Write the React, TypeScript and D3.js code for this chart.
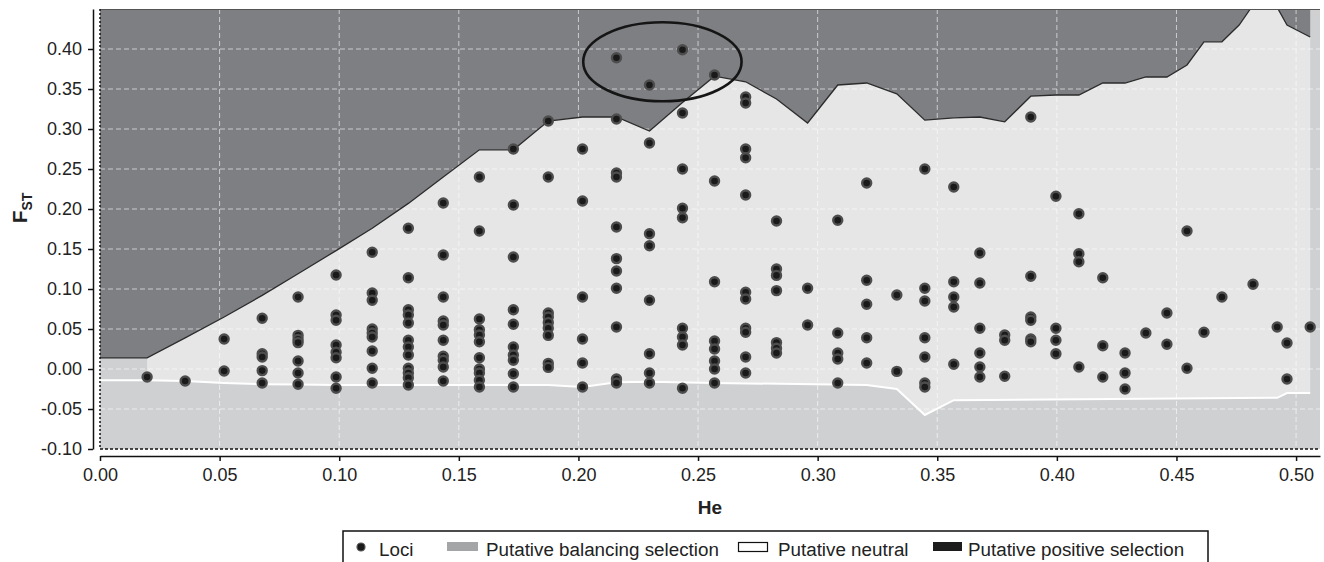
import { useEffect, useRef } from "react";
import * as d3 from "d3";

// axis ticks
const xTicks = [0, 0.05, 0.1, 0.15, 0.2, 0.25, 0.3, 0.35, 0.4, 0.45, 0.5];
const yTicks = [-0.1, -0.05, 0, 0.05, 0.1, 0.15, 0.2, 0.25, 0.3, 0.35, 0.4];

// upper boundary (neutral / positive selection)
const upperHe = [0, 0.0197, 0.0356, 0.0519, 0.0678, 0.0828, 0.0987, 0.1138, 0.1289, 0.1435, 0.1586, 0.1728,
  0.1874, 0.2017, 0.2159, 0.2297, 0.2435, 0.2569, 0.2699, 0.2828, 0.2958, 0.3084, 0.3205, 0.3331, 0.3448,
  0.3569, 0.3678, 0.3782, 0.3891, 0.3996, 0.4092, 0.4192, 0.4285, 0.4372, 0.446, 0.4544, 0.4615, 0.469,
  0.4762, 0.482, 0.4921, 0.4962, 0.5059];
const upperFst = [0.014, 0.014, 0.039, 0.065, 0.092, 0.119, 0.148, 0.176, 0.207, 0.24, 0.274, 0.274,
  0.31, 0.315, 0.315, 0.2975, 0.333, 0.366, 0.359, 0.3375, 0.3075, 0.355, 0.3575, 0.344, 0.311,
  0.314, 0.315, 0.309, 0.341, 0.3425, 0.3425, 0.3575, 0.3575, 0.365, 0.365, 0.38, 0.409, 0.409,
  0.43, 0.455, 0.452, 0.43, 0.415];

// lower boundary (balancing / neutral)
const lowerHe = [0, 0.0197, 0.0356, 0.0519, 0.0678, 0.0828, 0.0987, 0.1874, 0.2017, 0.2159, 0.2297, 0.2569,
  0.3205, 0.3331, 0.3448, 0.3569, 0.4921, 0.4962, 0.5059];
const lowerFst = [-0.014, -0.014, -0.015, -0.0175, -0.019, -0.0195, -0.02, -0.02, -0.0225, -0.0165, -0.016, -0.0175,
  -0.02, -0.025, -0.0575, -0.039, -0.036, -0.03, -0.03];

// loci, grouped by He column
const lociHe = [0.0197, 0.0356, 0.0519, 0.0678, 0.0828, 0.0987, 0.1138, 0.1289, 0.1435, 0.1586, 0.1728,
  0.1874, 0.2017, 0.2159, 0.2297, 0.2435, 0.2569, 0.2699, 0.2828, 0.2958, 0.3084, 0.3205, 0.3331, 0.3448,
  0.3569, 0.3678, 0.3782, 0.3891, 0.3996, 0.4092, 0.4192, 0.4285, 0.4372, 0.446, 0.4544, 0.4615, 0.469,
  0.482, 0.4921, 0.4962, 0.5059];
const lociFst = [
  [-0.01],
  [-0.015],
  [0.0375, -0.0025],
  [0.0635, 0.019, 0.015, -0.002, -0.0175],
  [0.09, 0.042, 0.037, 0.033, 0.01, -0.005, -0.019],
  [0.1175, 0.0675, 0.061, 0.03, 0.021, 0.014, -0.01, -0.024],
  [0.146, 0.095, 0.086, 0.05, 0.045, 0.04, 0.0225, 0.001, -0.0175],
  [0.176, 0.114, 0.074, 0.0675, 0.0575, 0.036, 0.0275, 0.0175, 0.001, -0.005, -0.011, -0.02],
  [0.2075, 0.1425, 0.09, 0.06, 0.055, 0.036, 0.016, 0.011, 0.0025, -0.015],
  [0.24, 0.1725, 0.0625, 0.049, 0.0425, 0.034, 0.014, 0.0, -0.005, -0.014, -0.0225],
  [0.275, 0.205, 0.14, 0.074, 0.056, 0.0275, 0.0175, 0.011, -0.006, -0.0225],
  [0.31, 0.24, 0.07, 0.065, 0.058, 0.051, 0.042, 0.007, 0.002],
  [0.275, 0.21, 0.09, 0.0375, 0.0075, -0.0225],
  [0.389, 0.3125, 0.245, 0.24, 0.1775, 0.138, 0.1225, 0.101, 0.0525, -0.0125, -0.0175],
  [0.355, 0.2825, 0.169, 0.154, 0.086, 0.019, -0.005, -0.0175],
  [0.399, 0.32, 0.25, 0.201, 0.189, 0.051, 0.04, 0.03, -0.024],
  [0.3675, 0.235, 0.109, 0.035, 0.025, 0.01, 0.0, -0.0175],
  [0.34, 0.3325, 0.275, 0.264, 0.2175, 0.096, 0.0875, 0.051, 0.046, 0.015, -0.005],
  [0.185, 0.125, 0.117, 0.098, 0.033, 0.026, 0.02],
  [0.101, 0.055],
  [0.186, 0.045, 0.02, 0.0125, -0.0175],
  [0.2325, 0.111, 0.081, 0.039, 0.0075],
  [0.0925, -0.003],
  [0.25, 0.101, 0.085, 0.039, 0.015, -0.0175, -0.0225],
  [0.2275, 0.109, 0.09, 0.0775, 0.006],
  [0.145, 0.1075, 0.051, 0.02, 0.0025, -0.01],
  [0.0425, 0.036, -0.009],
  [0.315, 0.116, 0.065, 0.061, 0.0375, 0.034],
  [0.216, 0.051, 0.036, 0.019],
  [0.194, 0.144, 0.134, 0.0025],
  [0.114, 0.029, -0.01],
  [0.02, -0.005, -0.025],
  [0.045],
  [0.07, 0.031],
  [0.1725, 0.001],
  [0.046],
  [0.09],
  [0.106],
  [0.0525],
  [0.0325, -0.0125],
  [0.0525],
];

// highlighted loci (ellipse centre / radii in data units)
const ellipseCenter = [0.2351, 0.384];
const ellipseRadii = [0.0331, 0.0494];

const legendLabels = ["Loci", "Putative balancing selection", "Putative neutral", "Putative positive selection"];

const FONT = "'Liberation Sans', Arial, Helvetica, sans-serif";
const DARK = "#7e7f83";
const NEUTRAL = "#e6e6e6";
const BALANCE = "#cfd0d2";

const App = () => {
  const svgRef = useRef<SVGSVGElement>(null);

  useEffect(() => {
    const svg = d3.select(svgRef.current);
    svg.selectAll("*").remove();

    const x = d3.scaleLinear().domain([0, 0.51]).range([100, 1320]);
    const y = d3.scaleLinear().domain([-0.1, 0.45]).range([449, 9]);
    const heMin = upperHe[1];
    const line = d3.line<[number, number]>().x(d => x(d[0])).y(d => y(d[1]));

    svg.append("defs").append("clipPath").attr("id", "plot-clip")
      .append("rect")
      .attr("x", x(0)).attr("y", y(0.45))
      .attr("width", x(0.51) - x(0)).attr("height", y(-0.1) - y(0.45));

    const plot = svg.append("g").attr("clip-path", "url(#plot-clip)");

    // balancing background
    plot.append("rect")
      .attr("x", x(0)).attr("y", y(0.45))
      .attr("width", x(0.51) - x(0)).attr("height", y(-0.1) - y(0.45))
      .attr("fill", BALANCE);

    // positive selection region above the upper line
    const upper = upperHe.map((h, i) => [h, upperFst[i]] as [number, number]);
    const lower = lowerHe.map((h, i) => [h, lowerFst[i]] as [number, number]);
    plot.append("path")
      .datum(upper)
      .attr("fill", DARK)
      .attr("d", d3.area<[number, number]>().x(d => x(d[0])).y0(y(0.5)).y1(d => y(d[1])));

    // neutral region between the lines
    const poly = [...upper.filter(d => d[0] >= heMin), ...lower.filter(d => d[0] >= heMin).reverse()];
    plot.append("path")
      .datum(poly)
      .attr("fill", NEUTRAL)
      .attr("d", d => line(d) + "Z");

    // grid
    plot.append("g").selectAll("line")
      .data(xTicks.filter(t => t > 0))
      .join("line")
      .attr("x1", d => x(d)).attr("x2", d => x(d))
      .attr("y1", y(0.45)).attr("y2", y(-0.1))
      .attr("stroke", "#fff").attr("stroke-opacity", 0.6)
      .attr("stroke-dasharray", "5,3");
    plot.append("g").selectAll("line")
      .data(yTicks.filter(t => t > -0.1))
      .join("line")
      .attr("x1", x(0)).attr("x2", x(0.51))
      .attr("y1", d => y(d)).attr("y2", d => y(d))
      .attr("stroke", "#fff").attr("stroke-opacity", 0.6)
      .attr("stroke-dasharray", "5,3");

    // boundary lines
    plot.append("path")
      .datum(lower)
      .attr("fill", "none").attr("stroke", "#fff").attr("stroke-width", 2)
      .attr("d", line);
    plot.append("path")
      .datum(upper)
      .attr("fill", "none").attr("stroke", "#2b2b2b").attr("stroke-width", 1.3)
      .attr("d", line);

    // loci
    const loci = lociHe.flatMap((h, i) => lociFst[i].map(f => [h, f] as [number, number]));
    plot.append("g").selectAll("circle")
      .data(loci)
      .join("circle")
      .attr("cx", d => x(d[0])).attr("cy", d => y(d[1]))
      .attr("r", 4.5)
      .attr("fill", "#1a1a1a")
      .attr("stroke", "#4d4d4d").attr("stroke-width", 2.4);

    // highlight ellipse
    plot.append("ellipse")
      .attr("cx", x(ellipseCenter[0])).attr("cy", y(ellipseCenter[1]))
      .attr("rx", x(ellipseCenter[0] + ellipseRadii[0]) - x(ellipseCenter[0]))
      .attr("ry", y(ellipseCenter[1] - ellipseRadii[1]) - y(ellipseCenter[1]))
      .attr("fill", "none").attr("stroke", "#151515").attr("stroke-width", 2.6);

    // borders
    svg.append("line")
      .attr("x1", x(0)).attr("x2", x(0.51)).attr("y1", y(0.45) + 0.5).attr("y2", y(0.45) + 0.5)
      .attr("stroke", "#555");
    svg.append("line")
      .attr("x1", x(0)).attr("x2", x(0)).attr("y1", y(0.45)).attr("y2", y(-0.1))
      .attr("stroke", "#111").attr("stroke-width", 1.5).attr("stroke-dasharray", "2,2");
    svg.append("line")
      .attr("x1", x(0)).attr("x2", x(0.51)).attr("y1", y(-0.1)).attr("y2", y(-0.1))
      .attr("stroke", "#111").attr("stroke-width", 1.5).attr("stroke-dasharray", "3,2");

    // axes
    const yAxis = svg.append("g")
      .attr("transform", "translate(93,0)")
      .call(d3.axisLeft(y).tickValues(yTicks).tickFormat(d => (+d).toFixed(2)).tickSize(5).tickSizeOuter(0).tickPadding(6));
    const xAxis = svg.append("g")
      .attr("transform", "translate(0,456)")
      .call(d3.axisBottom(x).tickValues(xTicks).tickFormat(d => (+d).toFixed(2)).tickSize(5).tickSizeOuter(0).tickPadding(7));
    [yAxis, xAxis].forEach(g => {
      g.selectAll("text").attr("font-family", FONT).attr("font-size", 18).attr("fill", "#222");
      g.selectAll("line").attr("stroke", "#111").attr("stroke-width", 1.5);
      g.select(".domain").attr("stroke", "#111").attr("stroke-width", 1.5);
    });

    // axis titles
    svg.append("text")
      .attr("x", 710).attr("y", 514)
      .attr("text-anchor", "middle")
      .attr("font-family", FONT).attr("font-size", 19).attr("font-weight", "bold")
      .attr("fill", "#222")
      .text("He");
    const yt = svg.append("text")
      .attr("transform", "translate(27,208) rotate(-90)")
      .attr("text-anchor", "middle")
      .attr("font-family", FONT).attr("font-weight", "bold").attr("fill", "#222");
    yt.append("tspan").attr("font-size", 21).text("F");
    yt.append("tspan").attr("font-size", 14).attr("dy", 5).text("ST");

    // legend
    const lg = svg.append("g").attr("font-family", FONT).attr("font-size", 18.8).attr("fill", "#222");
    lg.append("path")
      .attr("d", "M343,600V531H1208V600")
      .attr("fill", "none").attr("stroke", "#111").attr("stroke-width", 1.5);
    lg.append("circle").attr("cx", 361).attr("cy", 547).attr("r", 4)
      .attr("fill", "#1a1a1a").attr("stroke", "#555").attr("stroke-width", 1.2);
    lg.append("rect").attr("x", 447).attr("y", 542).attr("width", 31).attr("height", 9).attr("fill", "#a4a5a7");
    lg.append("rect").attr("x", 738.5).attr("y", 542.5).attr("width", 29).attr("height", 9)
      .attr("fill", "#fff").attr("stroke", "#111").attr("stroke-width", 1.2);
    lg.append("rect").attr("x", 933).attr("y", 542).attr("width", 29).attr("height", 9).attr("fill", "#1c1c1c");
    const lx = [379, 486, 778, 968];
    lg.selectAll("text.lab")
      .data(legendLabels)
      .join("text")
      .attr("class", "lab")
      .attr("x", (_, i) => lx[i]).attr("y", 556)
      .text(d => d);
  }, []);

  return (
    <svg ref={svgRef} width={1324} height={562}
      style={{ position: "absolute", left: 0, top: 0, background: "#fff" }} />
  );
};

export default App;
